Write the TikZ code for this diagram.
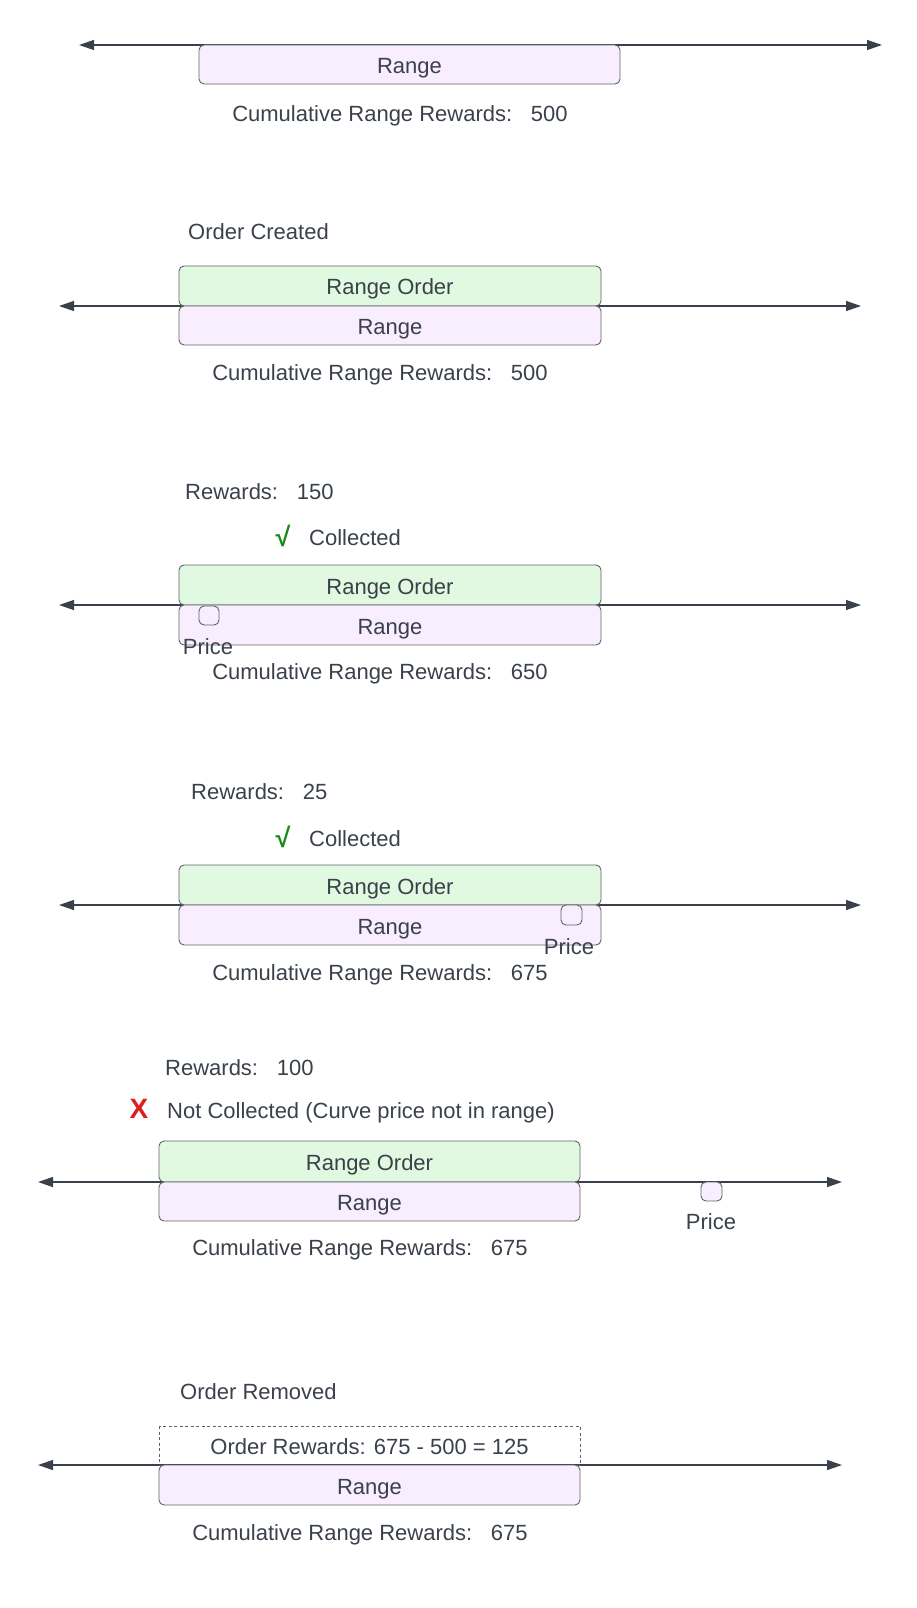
\documentclass[tikz,border=0pt]{standalone}
\usepackage{fontspec}
\setmainfont{Liberation Sans}
\usetikzlibrary{arrows.meta}
\definecolor{txt}{HTML}{3A414A}
\definecolor{edge}{HTML}{5F6368}
\definecolor{lav}{HTML}{F9EEFD}
\definecolor{mint}{HTML}{E1F9E1}
\definecolor{okgreen}{HTML}{168A16}
\definecolor{badred}{HTML}{DD1F1F}
\begin{document}
\begin{tikzpicture}[x=1pt,y=-1pt,
  timeline/.style={draw=txt,line width=1.3pt,{Triangle[length=15pt,width=10pt]}-{Triangle[length=15pt,width=10pt]}},
  rangebox/.style={draw=edge,line width=0.9pt,fill=lav,rounded corners=5pt},
  orderbox/.style={draw=edge,line width=0.9pt,fill=mint,rounded corners=5pt},
  dashbox/.style={draw=edge,line width=0.8pt,dash pattern=on 3pt off 2.5pt},
  pricebox/.style={draw=edge,line width=0.9pt,fill=lav,rounded corners=5pt},
  lbl/.style={text=txt,inner sep=0pt,font=\fontsize{22}{26}\selectfont,text height=1.3em,text depth=0pt},
  lblw/.style={lbl,anchor=west},
  checkmk/.style={text=okgreen,inner sep=0pt,font=\fontsize{27}{30}\selectfont\bfseries},
  crossmk/.style={text=badred,inner sep=0pt,font=\fontsize{28}{30}\selectfont\bfseries}
]
\useasboundingbox (0,0) rectangle (917,1608);
\newcommand{\gapsp}{\hspace{0.85em}}

% ---------- Section 1 ----------
\coordinate (a1l) at (79,45); \coordinate (a1r) at (882,45);
\draw[timeline] (a1l) -- (a1r);
\draw[rangebox] (199,45) rectangle (620,84);
\node[lbl] (r1) at (409.5,67) {Range};
\node[lbl] (c1) at (400,115) {Cumulative Range Rewards:\gapsp500};

% ---------- Section 2 ----------
\node[lblw] (h2) at (188,233) {Order Created};
\coordinate (a2l) at (59,306); \coordinate (a2r) at (861,306);
\draw[timeline] (a2l) -- (a2r);
\draw[orderbox] (179,266) rectangle (601,306);
\draw[rangebox] (179,306) rectangle (601,345);
\node[lbl] (o2) at (390,288) {Range Order};
\node[lbl] (r2) at (390,328) {Range};
\node[lbl] (c2) at (380,374) {Cumulative Range Rewards:\gapsp500};

% ---------- Section 3 ----------
\node[lblw] (w3) at (185,493) {Rewards:\gapsp150};
\node[checkmk] (k3) at (283,536) {√};
\node[lblw] (s3) at (309,539) {Collected};
\coordinate (a3l) at (59,605); \coordinate (a3r) at (861,605);
\draw[timeline] (a3l) -- (a3r);
\draw[orderbox] (179,565) rectangle (601,605);
\draw[rangebox] (179,605) rectangle (601,645);
\node[lbl] (o3) at (390,588) {Range Order};
\node[lbl] (r3) at (390,628) {Range};
\draw[pricebox] (199,606) rectangle (219,625);
\node[lbl] (p3) at (208,648) {Price};
\node[lbl] (c3) at (380,673) {Cumulative Range Rewards:\gapsp650};

% ---------- Section 4 ----------
\node[lblw] (w4) at (191,793) {Rewards:\gapsp25};
\node[checkmk] (k4) at (283,837) {√};
\node[lblw] (s4) at (309,840) {Collected};
\coordinate (a4l) at (59,905); \coordinate (a4r) at (861,905);
\draw[timeline] (a4l) -- (a4r);
\draw[orderbox] (179,865) rectangle (601,905);
\draw[rangebox] (179,905) rectangle (601,945);
\node[lbl] (o4) at (390,888) {Range Order};
\node[lbl] (r4) at (390,928) {Range};
\draw[pricebox] (561,905) rectangle (582,925);
\node[lbl] (p4) at (569,948) {Price};
\node[lbl] (c4) at (380,974) {Cumulative Range Rewards:\gapsp675};

% ---------- Section 5 ----------
\node[lblw] (w5) at (165,1069) {Rewards:\gapsp100};
\node[crossmk] (x5) at (139,1109) {X};
\node[lblw] (s5) at (167,1112) {Not Collected (Curve price not in range)};
\coordinate (a5l) at (38,1182); \coordinate (a5r) at (842,1182);
\draw[timeline] (a5l) -- (a5r);
\draw[orderbox] (159,1141) rectangle (580,1182);
\draw[rangebox] (159,1182) rectangle (580,1221);
\node[lbl] (o5) at (369.5,1164) {Range Order};
\node[lbl] (r5) at (369.5,1204) {Range};
\draw[pricebox] (701,1182) rectangle (722,1201);
\node[lbl] (p5) at (711,1223) {Price};
\node[lbl] (c5) at (360,1249) {Cumulative Range Rewards:\gapsp675};

% ---------- Section 6 ----------
\node[lblw] (h6) at (180,1393) {Order Removed};
\coordinate (a6l) at (38,1465); \coordinate (a6r) at (842,1465);
\draw[timeline] (a6l) -- (a6r);
\draw[dashbox] (159,1426) rectangle (580,1465);
\draw[rangebox] (159,1465) rectangle (580,1505);
\node[lbl] (o6) at (369.5,1448) {Order Rewards: 675 - 500 = 125};
\node[lbl] (r6) at (369.5,1488) {Range};
\node[lbl] (c6) at (360,1534) {Cumulative Range Rewards:\gapsp675};
\end{tikzpicture}
\end{document}
